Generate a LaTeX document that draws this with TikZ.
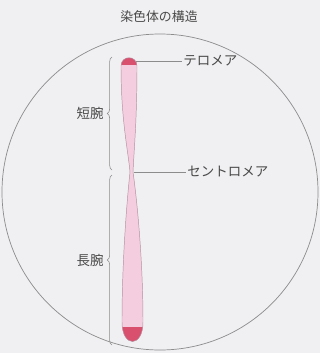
\documentclass[tikz,border=0pt]{standalone}
\usepackage{fontspec}
\setmainfont{Noto Sans CJK JP}
\usetikzlibrary{decorations.pathreplacing,positioning}
\definecolor{paper}{HTML}{F0F0F2}
\definecolor{armpink}{HTML}{F4CDDE}
\definecolor{armline}{HTML}{B4909F}
\definecolor{capred}{HTML}{D9506F}
\definecolor{inkgrey}{HTML}{4A4A4A}
\definecolor{linegrey}{HTML}{8C8C8C}

\begin{document}
\begin{tikzpicture}[
  x=0.03cm, y=-0.03cm,
  lbl/.style={font=\fontsize{11.5}{13}\selectfont, text=inkgrey, inner sep=1pt},
  lead/.style={draw=linegrey, line width=0.5pt},
  armbrace/.style={decorate, decoration={brace, amplitude=4pt}, draw=linegrey, line width=0.5pt}
]
  % page and cell outline
  \fill[paper] (0,0) rectangle (320,353);
  \useasboundingbox (0,0) rectangle (320,353);
  \draw[linegrey, line width=0.6pt] (160,192) circle[radius=4.74cm];

  \node[lbl, font=\fontsize{11}{13}\selectfont] (title) at (159,17) {染色体の構造};

  % chromosome body, tips clipped in red
  \def\chromo{(121,66) .. controls (121,55) and (137,55) .. (137,66)
    .. controls (137,120) and (134,150) .. (133,172)
    .. controls (137,200) and (143,260) .. (143,322)
    .. controls (143,348) and (122,348) .. (122,322)
    .. controls (122,260) and (127,200) .. (130,172)
    .. controls (128,150) and (121,120) .. cycle}
  \fill[armpink] \chromo;
  \begin{scope}
    \clip \chromo;
    \fill[capred] (110,50) rectangle (150,65);
    \fill[capred] (110,327) rectangle (150,350);
  \end{scope}
  \draw[armline, line width=0.4pt] \chromo;

  \coordinate (telotip) at (136,61);
  \coordinate (centro) at (134,172);

  \node[lbl, anchor=west] (telo) at (182,61) {テロメア};
  \node[lbl, anchor=west] (cen) at (186,172) {セントロメア};
  \draw[lead] (telotip) -- (telo.west);
  \draw[lead] (centro) -- (cen.west);

  % arm braces
  \draw[armbrace] (112,170) -- (112,57) node[midway, left=6pt, lbl] (short) {短腕};
  \draw[armbrace] (112,345) -- (112,175) node[midway, left=6pt, lbl] (long) {長腕};
\end{tikzpicture}
\end{document}
